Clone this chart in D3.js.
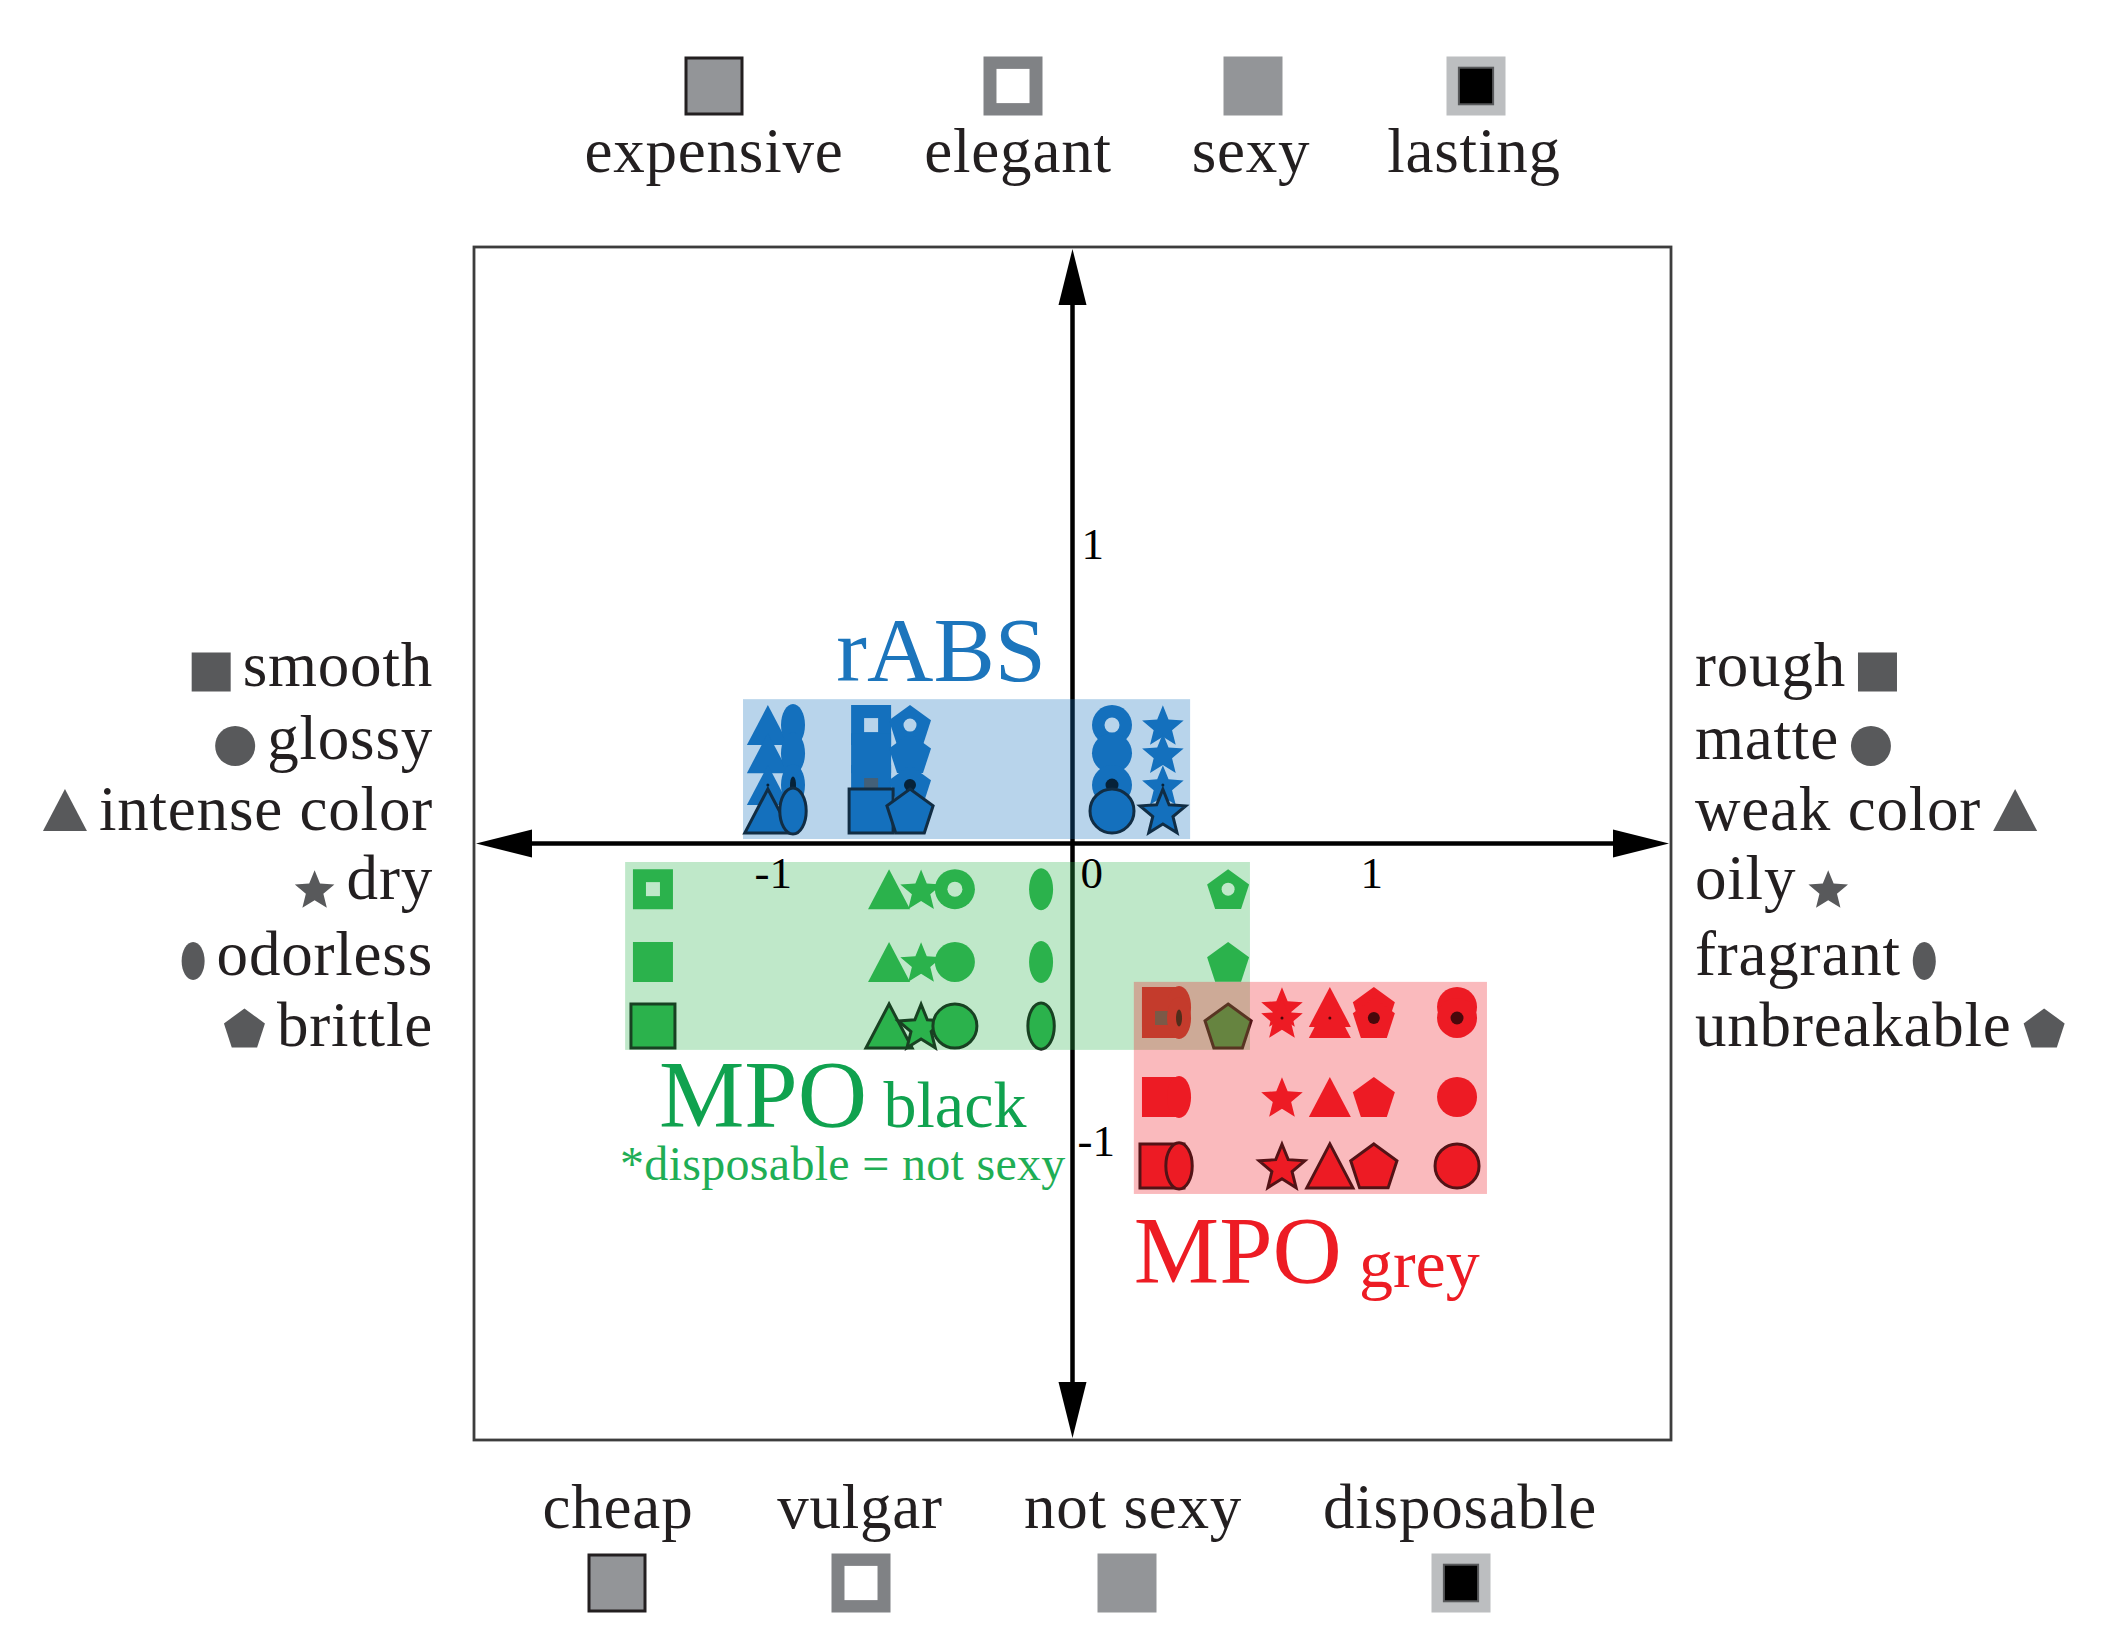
<!DOCTYPE html>
<html>
<head>
<meta charset="utf-8">
<script src="https://cdn.jsdelivr.net/npm/d3@7"></script>
<style>
  html, body { margin: 0; padding: 0; background: #fff; }
  svg { display: block; }
</style>
</head>
<body>
<svg id="chart" width="2122" height="1643"></svg>
<script>
// ---- data ----
var traits = ['texture', 'gloss', 'colour', 'feel', 'odour', 'strength'];
var leftTraitLabels = ['smooth', 'glossy', 'intense color', 'dry', 'odorless', 'brittle'];
var rightTraitLabels = ['rough', 'matte', 'weak color', 'oily', 'fragrant', 'unbreakable'];
var dimensions = ['expensive', 'elegant', 'sexy', 'lasting'];
var dimensionOpposites = ['cheap', 'vulgar', 'not sexy', 'disposable'];

// position of each trait (x) and each dimension (y), per material
var rabsX = [-0.673, 0.132, -1.018, 0.302, -0.934, -0.543];
var rabsY = [0.109, 0.397, 0.303, 0.196];
var mpoBlackX = [-1.402, -0.393, -0.613, -0.506, -0.105, 0.520];
var mpoBlackY = [-0.612, -0.153, -0.397, null]; // disposable = not sexy
var mpoGreyX = [0.299, 1.285, 0.860, 0.700, 0.356, 1.007];
var mpoGreyY = [-1.081, -0.548, -0.850, -0.585];

// shaded area of each material [x0, x1, y0, y1]
var rabsArea = [-1.101, 0.393, 0.015, 0.484];
var mpoBlackArea = [-1.495, 0.593, -0.692, -0.062];
var mpoGreyArea = [0.205, 1.385, -1.175, -0.464];

var xTicks = [-1, 0, 1];
var yTicks = [1, -1];

// ---- look ----
var FONT = '"Liberation Serif", "Times New Roman", serif';
var INK = '#231f20';
var LEGEND_GREY = '#58595b';
var traitShapes = ['square', 'circle', 'triangle', 'star', 'ellipse', 'pentagon'];
var dimensionStyles = ['outline', 'hollow', 'plain', 'dot'];

var svg = d3.select('#chart');
var x = d3.scaleLinear().domain([-2, 2]).range([474, 1671]);
var y = d3.scaleLinear().domain([-2, 2]).range([1440, 247]);

function shapePath(shape, w, h) {
  var p = d3.path();
  h = h || w;
  var r = w / 2, k, i, a, rr;
  if (shape === 'square') {
    p.rect(-w / 2, -h / 2, w, h);
  } else if (shape === 'circle') {
    p.moveTo(r, 0);
    p.arc(0, 0, r, 0, 2 * Math.PI);
  } else if (shape === 'triangle') {
    p.moveTo(0, -h / 2);
    p.lineTo(w / 2, h / 2);
    p.lineTo(-w / 2, h / 2);
    p.closePath();
  } else if (shape === 'star') {
    for (i = 0; i < 10; i++) {
      rr = i % 2 ? r * 0.46 : r * 1.04;
      a = -Math.PI / 2 + i * Math.PI / 5;
      if (i === 0) p.moveTo(rr * Math.cos(a), rr * Math.sin(a) + h * 0.05);
      else p.lineTo(rr * Math.cos(a), rr * Math.sin(a) + h * 0.05);
    }
    p.closePath();
  } else if (shape === 'pentagon') {
    rr = w / 1.902;
    for (i = 0; i < 5; i++) {
      a = -Math.PI / 2 + i * 2 * Math.PI / 5;
      if (i === 0) p.moveTo(rr * Math.cos(a), rr * Math.sin(a) + rr * 0.095);
      else p.lineTo(rr * Math.cos(a), rr * Math.sin(a) + rr * 0.095);
    }
    p.closePath();
  } else if (shape === 'ellipse') {
    k = 0.5523;
    var rx = w / 2, ry = h / 2;
    p.moveTo(rx, 0);
    p.bezierCurveTo(rx, ry * k, rx * k, ry, 0, ry);
    p.bezierCurveTo(-rx * k, ry, -rx, ry * k, -rx, 0);
    p.bezierCurveTo(-rx, -ry * k, -rx * k, -ry, 0, -ry);
    p.bezierCurveTo(rx * k, -ry, rx, -ry * k, rx, 0);
    p.closePath();
  }
  return p.toString();
}

// marker sizes (w, h) by shape
var markW = { square: 40, circle: 40, triangle: 42, star: 42, ellipse: 24, pentagon: 42 };
var markH = { square: 40, circle: 40, triangle: 40, star: 42, ellipse: 42, pentagon: 40 };
// inner spot for "hollow" and "dot" styles
var holeSpec = { square: ['square', 14, 14], circle: ['circle', 15, 15], pentagon: ['circle', 13, 13] };
var dotSpec = {
  square: ['square', 14, 14, '#58595b'], circle: ['circle', 13, 13, '#000'], pentagon: ['circle', 12, 12, '#000'],
  ellipse: ['ellipse', 6, 17, '#000'], star: ['circle', 3, 3, '#000'], triangle: ['circle', 3, 3, '#000']
};

function drawMarker(sel, d, color) {
  var g = sel.append('g').attr('transform', 'translate(' + x(d.x) + ',' + y(d.y) + ')');
  var f = d.style === 'outline' ? 1.1 : 1;
  g.append('path')
    .attr('d', shapePath(d.shape, markW[d.shape] * f, markH[d.shape] * f))
    .attr('fill', color)
    .attr('stroke', d.style === 'outline' ? '#111' : 'none')
    .attr('stroke-width', 3);
  var s;
  if (d.style === 'hollow' && holeSpec[d.shape]) {
    s = holeSpec[d.shape];
    g.append('path').attr('d', shapePath(s[0], s[1], s[2])).attr('fill', '#fff');
  }
  if (d.style === 'dot' && dotSpec[d.shape]) {
    s = dotSpec[d.shape];
    g.append('path').attr('d', shapePath(s[0], s[1], s[2])).attr('fill', s[3]);
  }
}

// ---- frame and axes ----
svg.append('rect')
  .attr('x', x(-2)).attr('y', y(2))
  .attr('width', x(2) - x(-2)).attr('height', y(-2) - y(2))
  .attr('fill', 'none').attr('stroke', '#3d3d3d').attr('stroke-width', 2.8);

var axes = svg.append('g');
var aLen = 58, aHalf = 14;
axes.append('line')
  .attr('x1', x(-2) + aLen - 4).attr('x2', x(2) - aLen + 4)
  .attr('y1', y(0)).attr('y2', y(0))
  .attr('stroke', '#000').attr('stroke-width', 4.5);
axes.append('line')
  .attr('x1', x(0)).attr('x2', x(0))
  .attr('y1', y(2) + aLen - 4).attr('y2', y(-2) - aLen + 4)
  .attr('stroke', '#000').attr('stroke-width', 4.5);
axes.append('path').attr('fill', '#000').attr('d',
  'M' + (x(-2) + 2) + ',' + y(0) + 'L' + (x(-2) + aLen) + ',' + (y(0) - aHalf) + 'L' + (x(-2) + aLen) + ',' + (y(0) + aHalf) + 'Z' +
  'M' + (x(2) - 2) + ',' + y(0) + 'L' + (x(2) - aLen) + ',' + (y(0) - aHalf) + 'L' + (x(2) - aLen) + ',' + (y(0) + aHalf) + 'Z' +
  'M' + x(0) + ',' + (y(2) + 2) + 'L' + (x(0) - aHalf) + ',' + (y(2) + aLen) + 'L' + (x(0) + aHalf) + ',' + (y(2) + aLen) + 'Z' +
  'M' + x(0) + ',' + (y(-2) - 2) + 'L' + (x(0) - aHalf) + ',' + (y(-2) - aLen) + 'L' + (x(0) + aHalf) + ',' + (y(-2) - aLen) + 'Z');

// ---- markers ----
var groups = [
  { name: 'rABS', xs: rabsX, ys: rabsY, area: rabsArea, color: '#1570bd' },
  { name: 'MPO black', xs: mpoBlackX, ys: mpoBlackY, area: mpoBlackArea, color: '#2bb24c' },
  { name: 'MPO grey', xs: mpoGreyX, ys: mpoGreyY, area: mpoGreyArea, color: '#ed1c24' }
];

var markLayer = svg.append('g');
groups.forEach(function(grp) {
  var pts = [];
  dimensions.forEach(function(dim, di) {
    if (grp.ys[di] === null) return;
    traits.forEach(function(t, ti) {
      pts.push({ shape: traitShapes[ti], style: dimensionStyles[di], x: grp.xs[ti], y: grp.ys[di] });
    });
  });
  // upper rows first, left to right, so lower rows sit on top
  pts.sort(function(a, b) { return (b.y - a.y) || (a.x - b.x); });
  pts.forEach(function(d) { drawMarker(markLayer, d, grp.color); });
});

// shaded areas go over the marks
groups.forEach(function(grp) {
  var a = grp.area;
  svg.append('rect')
    .attr('x', x(a[0])).attr('y', y(a[3]))
    .attr('width', x(a[1]) - x(a[0])).attr('height', y(a[2]) - y(a[3]))
    .attr('fill', grp.color).attr('fill-opacity', 0.3);
});

// ---- tick labels ----
var tickG = svg.append('g').attr('font-family', FONT).attr('font-size', 45).attr('fill', '#000');
xTicks.forEach(function(v) {
  tickG.append('text')
    .attr('x', v === 0 ? x(0) + 8 : x(v))
    .attr('y', y(0) + 44)
    .attr('text-anchor', v === 0 ? 'start' : 'middle')
    .text(v === -1 ? '-1' : String(v));
});
yTicks.forEach(function(v) {
  tickG.append('text')
    .attr('x', x(0) + (v < 0 ? 5 : 9))
    .attr('y', y(v) + 14)
    .text(v < 0 ? '-1' : String(v));
});

// ---- group titles ----
var titles = svg.append('g').attr('font-family', FONT);
titles.append('text')
  .attr('x', x(-0.439)).attr('y', y(0.545))
  .attr('text-anchor', 'middle').attr('font-size', 92).attr('fill', '#1c75bc')
  .text('rABS');

var tBlack = titles.append('text')
  .attr('x', x(-1.382)).attr('y', y(-0.951))
  .attr('font-size', 96).attr('fill', '#10a24f');
tBlack.append('tspan').text('MPO');
tBlack.append('tspan').attr('font-size', 66).text(' black');

titles.append('text')
  .attr('x', x(-1.512)).attr('y', y(-1.128))
  .attr('font-size', 48).attr('letter-spacing', 0.3).attr('fill', '#1fae55')
  .text('*disposable = not sexy');

var tGrey = titles.append('text')
  .attr('x', x(0.205)).attr('y', y(-1.474))
  .attr('font-size', 96).attr('fill', '#ed1c24');
tGrey.append('tspan').text('MPO');
tGrey.append('tspan').attr('font-size', 68).attr('dy', 4).text(' grey');

// ---- side legends (traits) ----
var rowBaseline = [686, 759, 830, 899, 975, 1046];
var sideW = { square: 39, circle: 40, triangle: 44, star: 40, ellipse: 23, pentagon: 41 };
var sideH = { square: 39, circle: 40, triangle: 42, star: 40, ellipse: 38, pentagon: 39 };
var sideDy = { square: -14, circle: -13, triangle: -20, star: -10, ellipse: -14, pentagon: -18 };

var side = svg.append('g').attr('font-family', FONT).attr('font-size', 63)
  .attr('letter-spacing', 0.8).attr('fill', INK);

leftTraitLabels.forEach(function(lbl, i) {
  var shape = traitShapes[i];
  var t = side.append('text').attr('x', 433).attr('y', rowBaseline[i]).attr('text-anchor', 'end').text(lbl);
  var len = t.node().getComputedTextLength();
  var cx = 433 - len - 12 - sideW[shape] / 2;
  side.append('path')
    .attr('transform', 'translate(' + cx + ',' + (rowBaseline[i] + sideDy[shape]) + ')')
    .attr('d', shapePath(shape, sideW[shape], sideH[shape]))
    .attr('fill', LEGEND_GREY);
});

rightTraitLabels.forEach(function(lbl, i) {
  var shape = traitShapes[i];
  var t = side.append('text').attr('x', 1695).attr('y', rowBaseline[i]).text(lbl);
  var len = t.node().getComputedTextLength();
  var cx = 1695 + len + 12 + sideW[shape] / 2;
  side.append('path')
    .attr('transform', 'translate(' + cx + ',' + (rowBaseline[i] + sideDy[shape]) + ')')
    .attr('d', shapePath(shape, sideW[shape], sideH[shape]))
    .attr('fill', LEGEND_GREY);
});

// ---- top / bottom legends (dimensions) ----
var topSwatchX = [714, 1013, 1253, 1476];
var topLabelX = [714, 1018, 1251, 1474];
var bottomSwatchX = [617, 861, 1127, 1461];
var bottomLabelX = [618, 860, 1133, 1460];

function swatch(sel, style, cx, cy) {
  var s = 59, g = sel.append('g').attr('transform', 'translate(' + cx + ',' + cy + ')');
  if (style === 'outline') {
    g.append('rect').attr('x', -s / 2 + 1.5).attr('y', -s / 2 + 1.5).attr('width', s - 3).attr('height', s - 3)
      .attr('fill', '#939598').attr('stroke', INK).attr('stroke-width', 3);
  } else if (style === 'hollow') {
    g.append('rect').attr('x', -s / 2).attr('y', -s / 2).attr('width', s).attr('height', s).attr('fill', '#808285');
    g.append('rect').attr('x', -s * 0.28).attr('y', -s * 0.29).attr('width', s * 0.56).attr('height', s * 0.58).attr('fill', '#fff');
  } else if (style === 'plain') {
    g.append('rect').attr('x', -s / 2).attr('y', -s / 2).attr('width', s).attr('height', s).attr('fill', '#939598');
  } else {
    g.append('rect').attr('x', -s / 2).attr('y', -s / 2).attr('width', s).attr('height', s).attr('fill', '#bcbec0');
    g.append('rect').attr('x', -s * 0.29).attr('y', -s * 0.31).attr('width', s * 0.58).attr('height', s * 0.62)
      .attr('fill', '#000').attr('stroke', '#58595b').attr('stroke-width', 2);
  }
}

var legend = svg.append('g').attr('font-family', FONT).attr('font-size', 63)
  .attr('letter-spacing', 0.8).attr('fill', INK).attr('text-anchor', 'middle');

dimensions.forEach(function(dim, i) {
  swatch(legend, dimensionStyles[i], topSwatchX[i], 86);
  legend.append('text').attr('x', topLabelX[i]).attr('y', 172).text(dim);
});
dimensionOpposites.forEach(function(dim, i) {
  swatch(legend, dimensionStyles[i], bottomSwatchX[i], 1583);
  legend.append('text').attr('x', bottomLabelX[i]).attr('y', 1528).text(dim);
});
</script>
</body>
</html>
